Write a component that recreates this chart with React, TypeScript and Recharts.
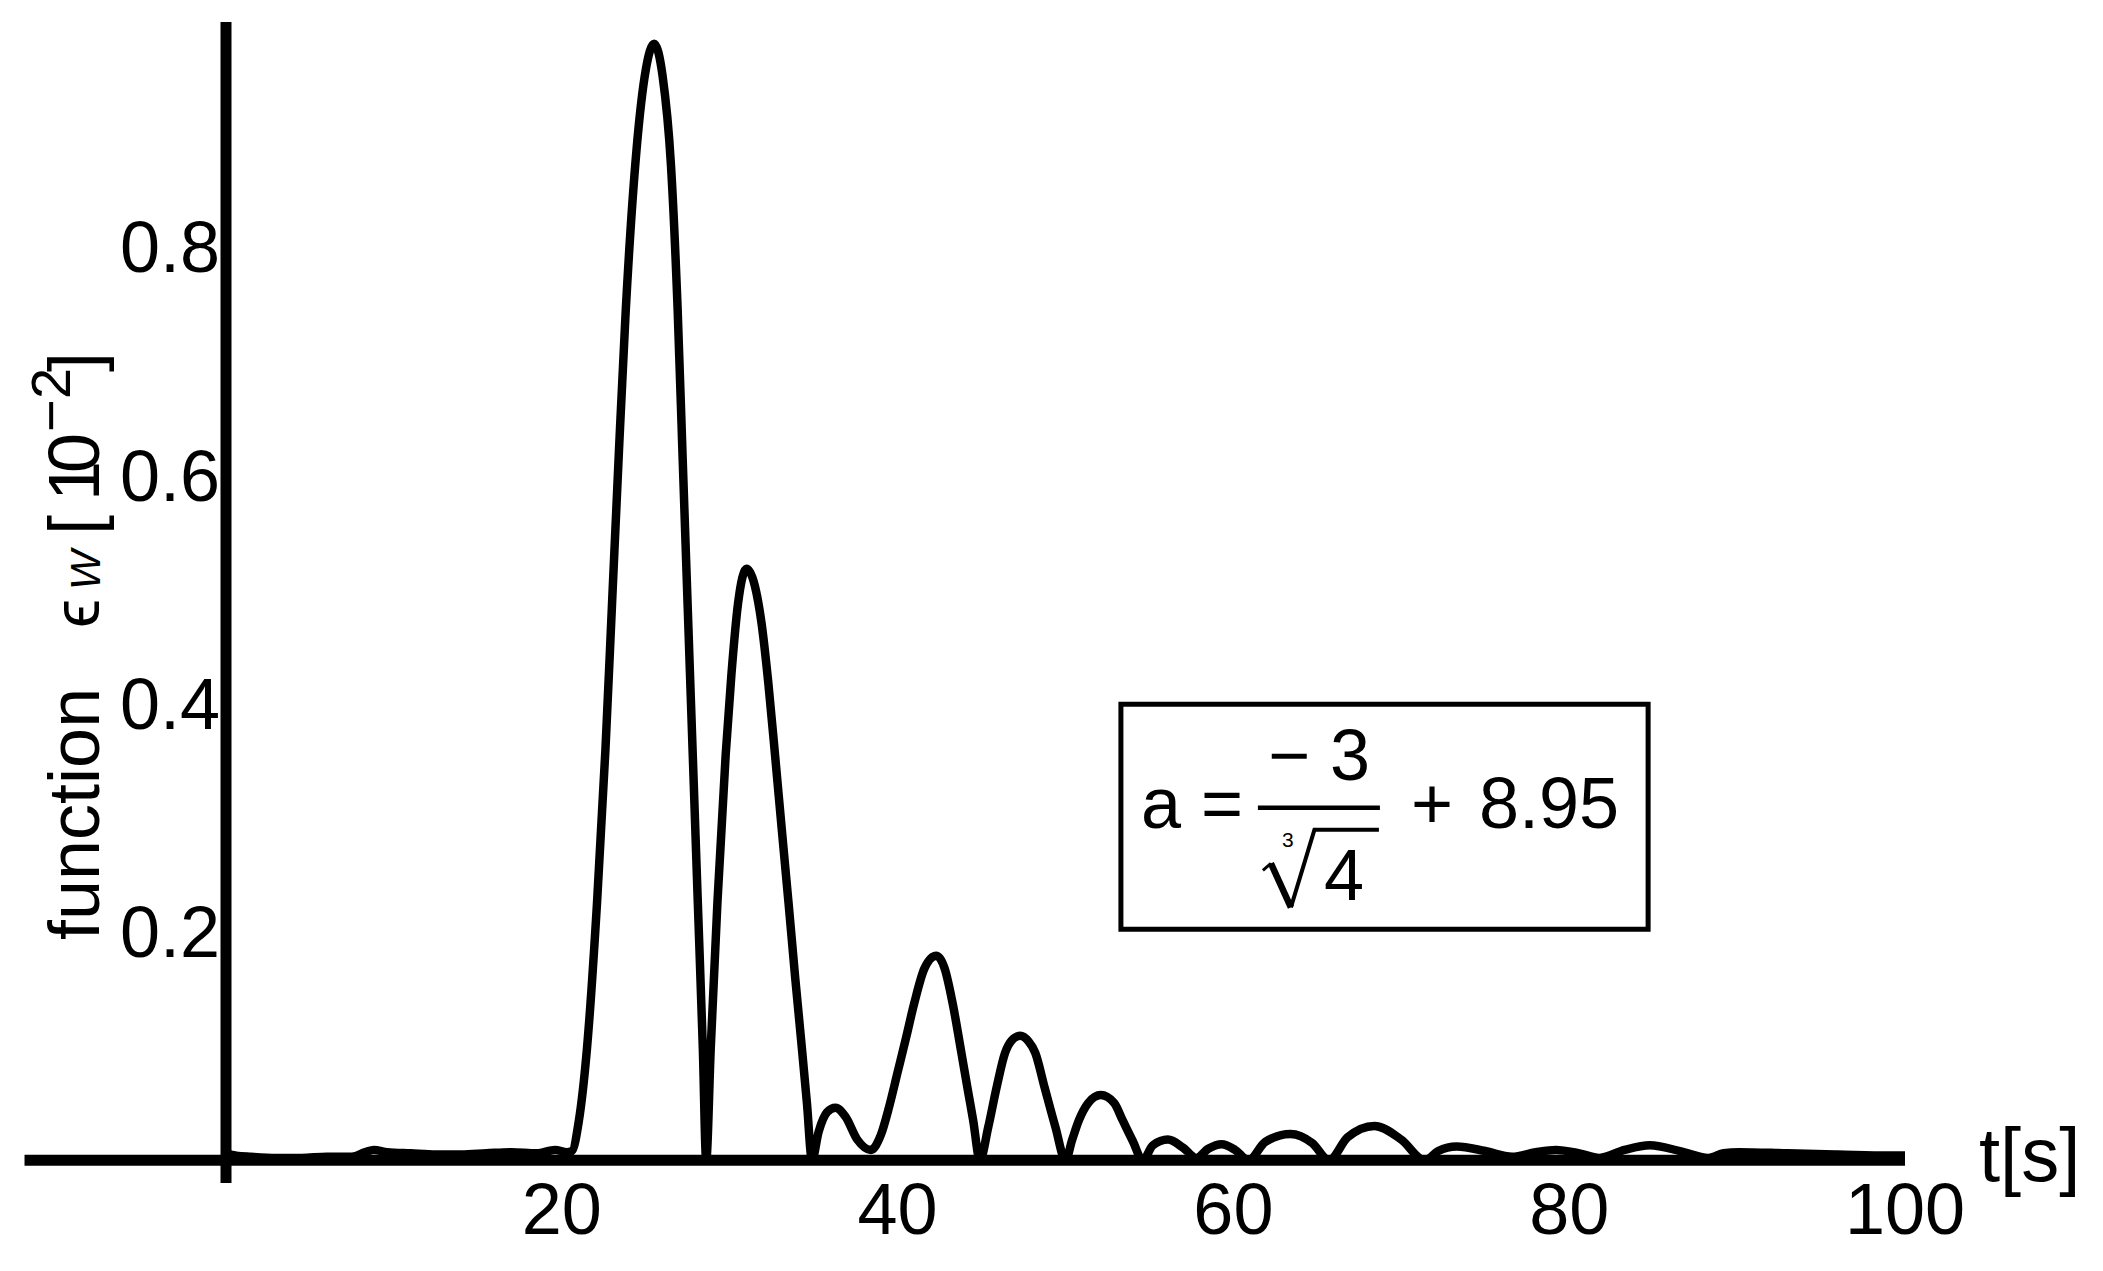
import React from "react";
import { LineChart, Line, XAxis, YAxis, ReferenceLine, ReferenceArea } from "recharts";

const FONT = "'Liberation Sans', Arial, Helvetica, sans-serif";

// t [s]
const TIME = [
  0, 0.6, 1.5, 3, 4.5, 6, 7.5, 8.3, 8.8, 9.6, 11, 12.5, 14, 15.5, 17, 18.5, 19.6, 20.3,
  20.6, 21.0, 21.5, 22.1, 22.6, 23.0, 23.4, 23.8, 24.45, 25.0, 25.5, 26.0, 26.5, 26.9,
  27.2, 27.5, 27.8, 28.1, 28.4, 28.6, 28.87, 29.27, 29.76, 30.1, 30.5, 31.0, 31.5, 31.9,
  32.3, 32.7, 33.1, 33.5, 33.9, 34.3, 34.6, 34.9, 35.3, 35.8, 36.3, 36.9, 37.6, 38.4,
  39.0, 39.5, 40.0, 40.5, 41.0, 41.6, 42.3, 42.8, 43.27, 43.8, 44.2, 44.5, 44.9, 45.4,
  45.9, 46.4, 46.8, 47.3, 47.8, 48.2, 48.75, 49.4, 50.0, 50.4, 50.8, 51.35, 52.1, 52.9,
  53.4, 54.0, 54.6, 55.2, 56.1, 57.0, 57.8, 58.5, 59.3, 60.1, 60.9, 61.9, 63.4, 64.7,
  65.7, 66.8, 68.4, 70.0, 71.4, 72.2, 73.3, 75.0, 76.6, 78.0, 79.2, 80.6, 81.8, 83.3,
  84.8, 86.6, 88.3, 89.2, 90.1, 93, 96, 99, 100,
];

// epsilon_W [10^-2]
const EPS_W = [
  0.006, 0.004, 0.003, 0.002, 0.002, 0.003, 0.003, 0.007, 0.009, 0.007, 0.006, 0.005, 0.005, 0.006, 0.007, 0.006, 0.009, 0.007,
  0.008, 0.033, 0.098, 0.226, 0.36, 0.49, 0.62, 0.742, 0.885, 0.955, 0.978, 0.95, 0.872, 0.745,
  0.614, 0.484, 0.355, 0.226, 0.098, 0.0, 0.098, 0.226, 0.355, 0.425, 0.488, 0.518, 0.503, 0.47,
  0.418, 0.355, 0.29, 0.226, 0.16, 0.098, 0.05, 0.0, 0.025, 0.042, 0.046, 0.038, 0.018, 0.009,
  0.022, 0.047, 0.077, 0.107, 0.138, 0.168, 0.179, 0.168, 0.138, 0.094, 0.06, 0.035, 0.0, 0.029,
  0.064, 0.094, 0.105, 0.109, 0.104, 0.094, 0.064, 0.029, 0.0, 0.018, 0.035, 0.05, 0.057, 0.05,
  0.035, 0.017, 0.0, 0.013, 0.018, 0.011, 0.002, 0.01, 0.014, 0.009, 0.0, 0.016, 0.023, 0.015,
  0.0, 0.02, 0.03, 0.018, 0.0, 0.008, 0.012, 0.008, 0.003, 0.007, 0.009, 0.006, 0.002, 0.009,
  0.013, 0.008, 0.002, 0.006, 0.007, 0.006, 0.005, 0.004, 0.004,
];

const X_TICKS = [20, 40, 60, 80, 100];
const Y_TICKS = [0.2, 0.4, 0.6, 0.8];

// annotation box, in data units
const BOX_T = [53.3, 84.7];
const BOX_V = [0.2022, 0.3993];

const data = TIME.map((t, i) => ({ t, v: EPS_W[i] }));

function YLabel(props: any) {
  const vb = props.viewBox || { x: 26, y: 22 };
  const bx = vb.x + 73;
  const by = vb.y + 918;
  return (
    <text
      x={bx}
      y={by}
      transform={`rotate(-90, ${bx}, ${by})`}
      fill="#000"
      fontFamily={FONT}
      fontSize={72}
    >
      <tspan x={bx}>function</tspan>
      <tspan x={bx + 312} fontSize={66}>ϵ</tspan>
      <tspan x={bx + 350} dy={1} fontSize={42} fontStyle="italic">W</tspan>
      <tspan x={bx + 405} dy={-1}>[</tspan>
      <tspan x={bx + 439}>1</tspan>
      <tspan x={bx + 467}>0</tspan>
      <tspan x={bx + 508} dy={-29} fontSize={56}>−</tspan>
      <tspan x={bx + 541} fontSize={56}>2</tspan>
      <tspan x={bx + 568} dy={29}>]</tspan>
    </text>
  );
}

function XLabel(props: any) {
  const vb = props.viewBox || { x: 226, y: 1183, width: 1678 };
  return (
    <text x={vb.x + vb.width + 74} y={vb.y - 2} fill="#000" fontFamily={FONT} fontSize={76}>
      t[s]
    </text>
  );
}

function Formula(props: any) {
  const vb = props.viewBox;
  if (!vb) return null;
  const x = vb.x;
  const y = vb.y;
  return (
    <g fill="#000" fontFamily={FONT} fontSize={72}>
      <text x={x + 20} y={y + 123.5}>a =</text>
      <text x={x + 147} y={y + 75.5}>− 3</text>
      <line x1={x + 137} y1={y + 103.5} x2={x + 259} y2={y + 103.5} stroke="#000" strokeWidth={4.5} />
      <path
        d={`M${x + 142} ${y + 166} L${x + 150} ${y + 159}`}
        stroke="#000"
        strokeWidth={3}
        fill="none"
      />
      <path
        d={`M${x + 150} ${y + 159} L${x + 170} ${y + 203}`}
        stroke="#000"
        strokeWidth={6.5}
        fill="none"
      />
      <path
        d={`M${x + 170} ${y + 203} L${x + 193.5} ${y + 125.5} L${x + 258} ${y + 125.5}`}
        stroke="#000"
        strokeWidth={4}
        fill="none"
      />
      <text x={x + 161} y={y + 142.5} fontSize={21}>3</text>
      <text x={x + 203} y={y + 195.5}>4</text>
      <text x={x + 290} y={y + 123.5}>+</text>
      <text x={x + 358} y={y + 123.5}>8.95</text>
    </g>
  );
}

export default function App() {
  return (
    <div style={{ position: "absolute", left: 0, top: 0, width: 2103, height: 1271, background: "#fff" }}>
      <LineChart
        width={2103}
        height={1271}
        data={data}
        margin={{ top: 22, right: 198, bottom: 18, left: 26 }}
      >
        <XAxis
          dataKey="t"
          type="number"
          domain={[0, 100]}
          ticks={X_TICKS}
          allowDataOverflow
          axisLine={false}
          tickLine={false}
          tickSize={0}
          tickMargin={0}
          height={70}
          tick={{ fontSize: 72, fill: "#000", fontFamily: FONT }}
          label={XLabel}
        />
        <YAxis
          type="number"
          domain={[-0.02, 0.997]}
          ticks={Y_TICKS}
          allowDataOverflow
          width={200}
          axisLine={{ stroke: "#000", strokeWidth: 11 }}
          tickLine={false}
          tickSize={0}
          tickMargin={6}
          tick={{ fontSize: 72, fill: "#000", fontFamily: FONT }}
          label={YLabel}
        />
        <ReferenceLine
          segment={[
            { x: -12, y: 0 },
            { x: 100, y: 0 },
          ]}
          stroke="#000"
          strokeWidth={11}
          ifOverflow="visible"
        />
        <ReferenceArea
          x1={BOX_T[0]}
          x2={BOX_T[1]}
          y1={BOX_V[0]}
          y2={BOX_V[1]}
          fill="#fff"
          fillOpacity={1}
          stroke="#000"
          strokeWidth={5}
          ifOverflow="visible"
          label={Formula}
        />
        <Line
          type="monotone"
          dataKey="v"
          stroke="#000"
          strokeWidth={8.5}
          strokeLinejoin="round"
          dot={false}
          activeDot={false}
          isAnimationActive={false}
        />
      </LineChart>
    </div>
  );
}
